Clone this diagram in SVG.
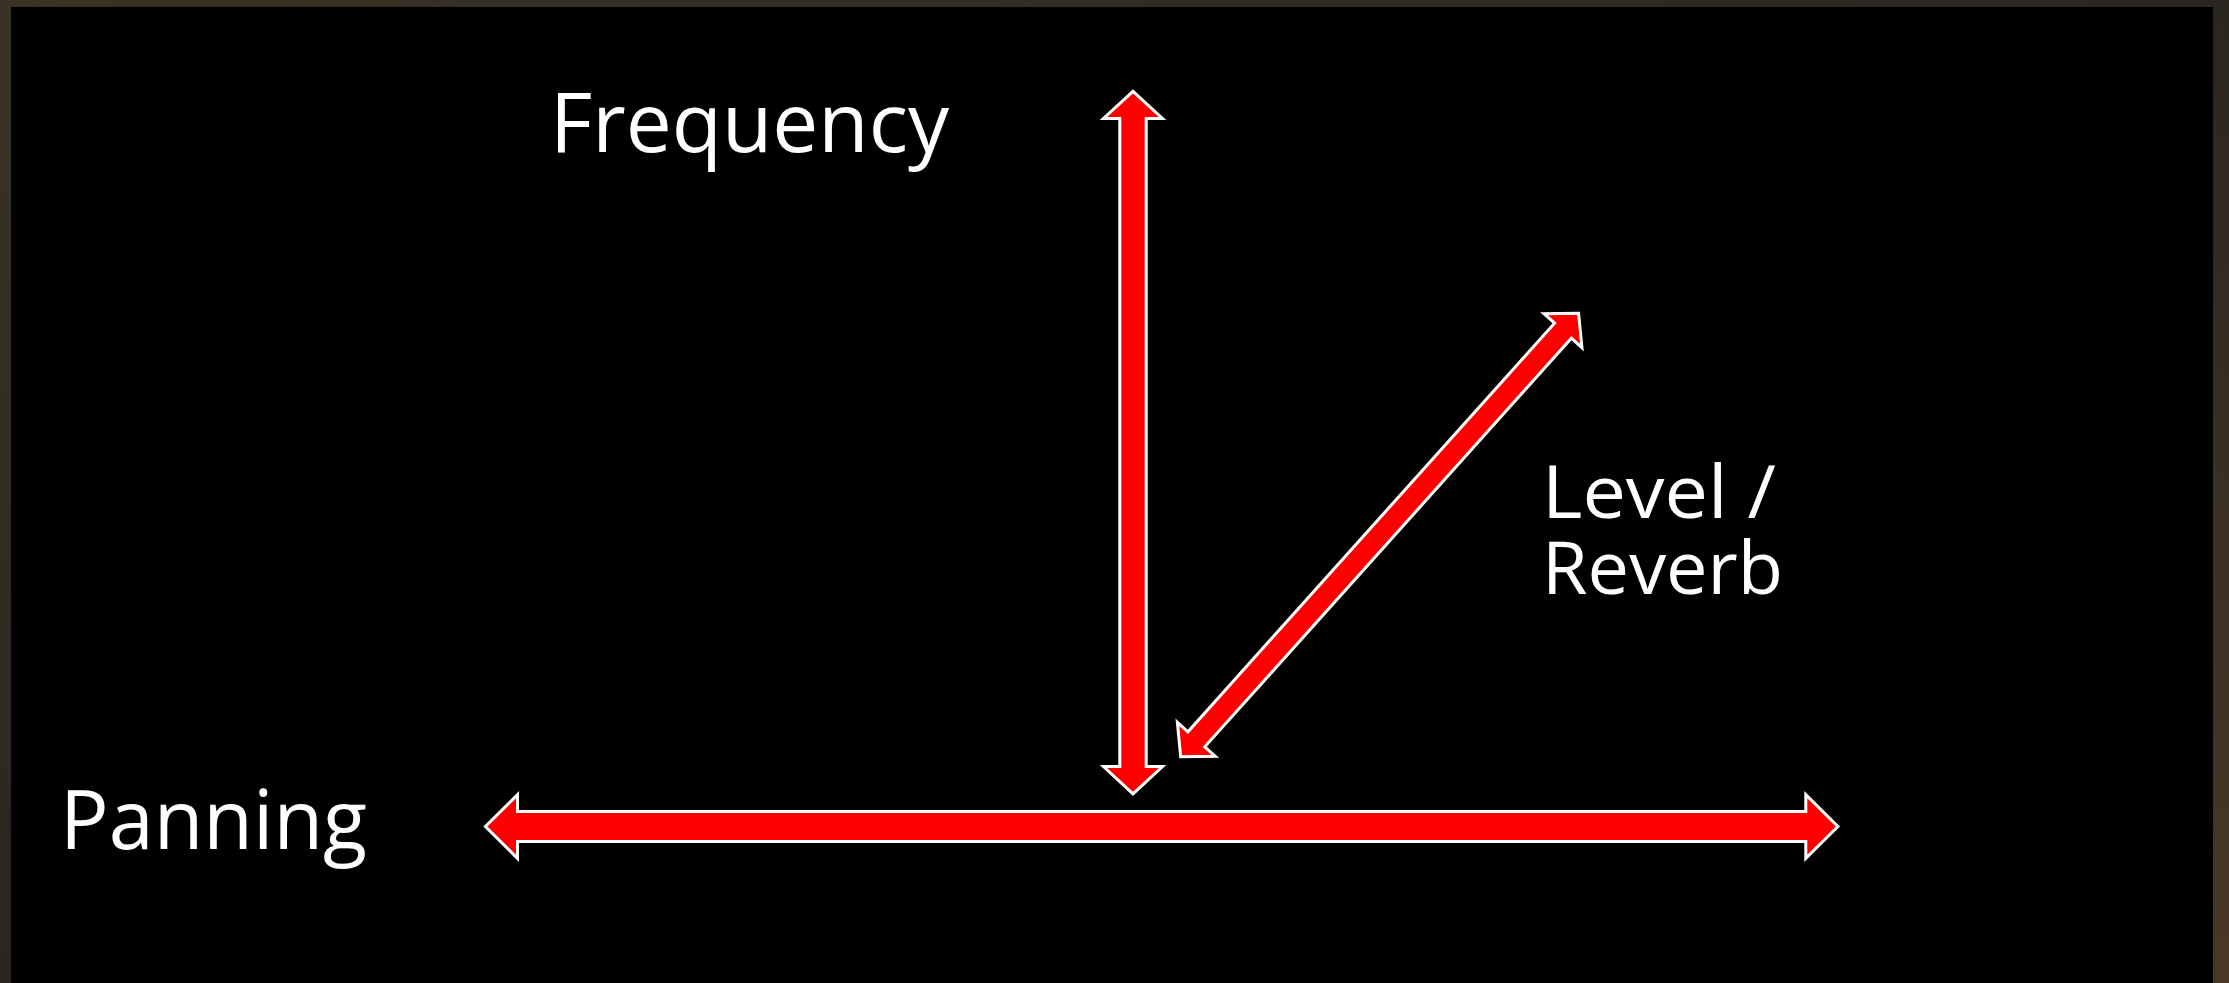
<svg xmlns="http://www.w3.org/2000/svg" width="2229" height="983" viewBox="0 0 2229 983">
  <defs>
    <linearGradient id="bgGrad" x1="0" y1="0" x2="1" y2="1">
      <stop offset="0" stop-color="#3a3224"/>
      <stop offset="0.5" stop-color="#2a2620"/>
      <stop offset="1" stop-color="#4a3826"/>
    </linearGradient>
    <style>
      .arrow { fill: #ff0000; stroke: #ffffff; stroke-width: 3; stroke-linejoin: miter; }
      .label { fill: #ffffff; font-family: "Open Sans", "Noto Sans", "Liberation Sans", sans-serif; }
    </style>
  </defs>

  <!-- blurred photo backdrop -->
  <rect x="0" y="0" width="2229" height="983" fill="url(#bgGrad)"/>
  <!-- black slide panel -->
  <rect x="11" y="7" width="2202" height="976" fill="#000000"/>

  <g id="connectors">
    <polygon id="axis-frequency" class="arrow" points="1133,91.4 1162.5,118.5 1146.2,118.5 1146.2,766.5 1162.5,766.5 1133,793.9 1103.5,766.5 1119.8,766.5 1119.8,118.5 1103.5,118.5"/>
    <polygon id="axis-panning" class="arrow" points="485.4,826.5 517.5,794.7 517.5,811.5 1805.8,811.5 1805.8,794.7 1837.9,826.5 1805.8,858.3 1805.8,841.5 517.5,841.5 517.5,858.3"/>
    <g transform="translate(1179.3,758.3) rotate(-48.1)">
      <polygon id="axis-level" class="arrow" points="2.1,0 25.5,-25.5 25.5,-11.3 574.5,-11.3 574.5,-25.5 597.9,0 574.5,25.5 574.5,11.3 25.5,11.3 25.5,25.5"/>
    </g>
  </g>

  <g id="label-frequency">
    <text class="label" x="550" y="152" font-size="82" textLength="399" lengthAdjust="spacingAndGlyphs">Frequency</text>
  </g>
  <g id="label-level-reverb">
    <text class="label" x="1542" y="518" font-size="74" textLength="234" lengthAdjust="spacingAndGlyphs">Level /</text>
    <text class="label" x="1542" y="594" font-size="74" textLength="241" lengthAdjust="spacingAndGlyphs">Reverb</text>
  </g>
  <g id="label-panning">
    <text class="label" x="60" y="849" font-size="82" textLength="307" lengthAdjust="spacingAndGlyphs">Panning</text>
  </g>
</svg>
